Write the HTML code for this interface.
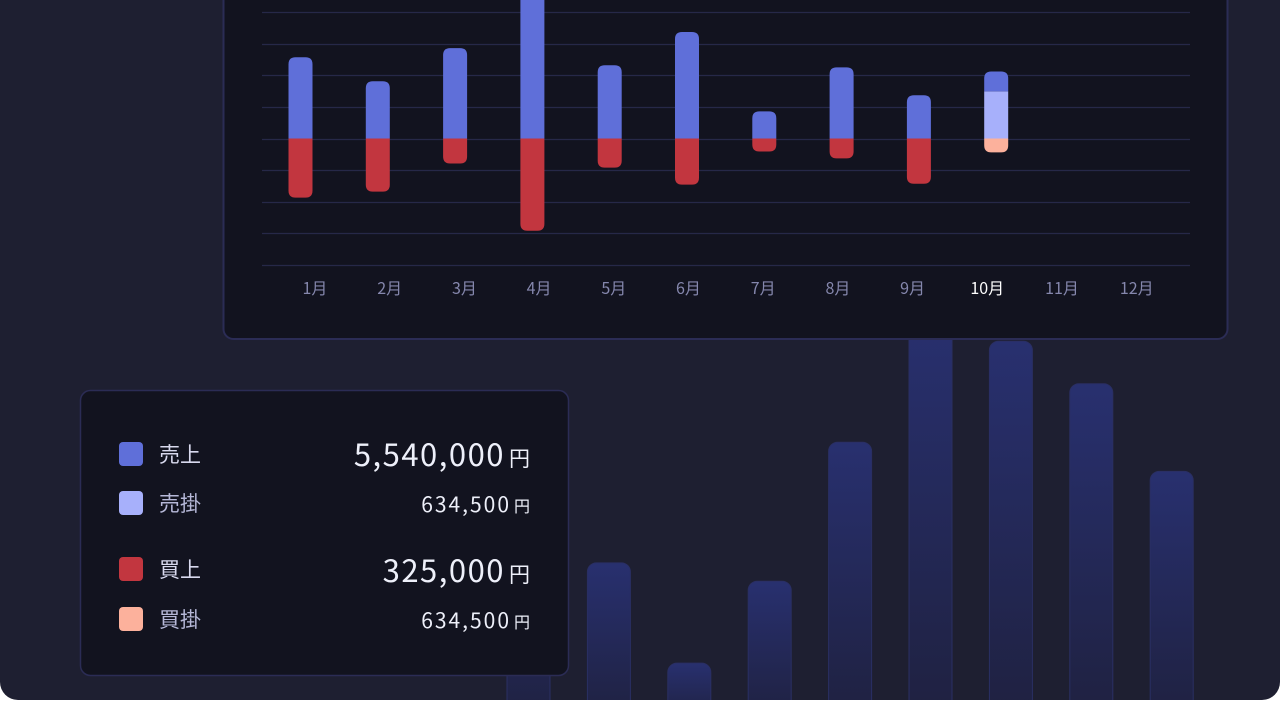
<!DOCTYPE html>
<html lang="ja">
<head>
<meta charset="utf-8">
<style>
  html,body{margin:0;padding:0;background:#ffffff;}
  body{width:1280px;height:700px;overflow:hidden;font-family:"Noto Sans CJK JP","Liberation Sans",sans-serif;}
  svg text{font-family:"Noto Sans CJK JP","Liberation Sans",sans-serif;}
  .big{letter-spacing:1.5px;}
  .small{letter-spacing:2px;}
</style>
</head>
<body>
<svg id="root" width="1280" height="700" viewBox="0 0 1280 700" xmlns="http://www.w3.org/2000/svg">
  <defs>
    <linearGradient id="bgBar" x1="0" y1="0" x2="0" y2="1">
      <stop offset="0" stop-color="#28306f"/>
      <stop offset="1" stop-color="#1f2140"/>
    </linearGradient>
    <clipPath id="plotClip"><rect x="224" y="0" width="1003" height="338"/></clipPath>
  </defs>
  <rect x="0" y="-20" width="1280" height="720" rx="18" fill="#1e1f31"/>
  <g id="bgBars"></g>

  <rect x="223.5" y="-20" width="1004" height="359" rx="10" fill="#12131f" stroke="#2b2c55" stroke-width="2"/>
  <g id="grid"></g>
  <g id="bars" clip-path="url(#plotClip)"></g>
  <g id="xlabels"></g>

  <rect x="80.5" y="390.5" width="488" height="285" rx="10" fill="#12131f" stroke="#2b2c55" stroke-width="1.5"/>
  <g>
    <rect x="119" y="442" width="24" height="24" rx="4" fill="#5f6fd9"/>
    <text x="159" y="462" font-size="21" fill="#d8d9ee">売上</text>
    <text x="530" y="466" text-anchor="end" fill="#eef0fa"><tspan class="big" font-size="31">5,540,000</tspan><tspan font-size="21" dx="4">円</tspan></text>
  </g>
  <g>
    <rect x="119" y="491" width="24" height="24" rx="4" fill="#a7b0fb"/>
    <text x="159" y="511" font-size="21" fill="#b6b8d8">売掛</text>
    <text x="530" y="512" text-anchor="end" fill="#eef0fa"><tspan class="small" font-size="21">634,500</tspan><tspan font-size="16" dx="3">円</tspan></text>
  </g>
  <g>
    <rect x="119" y="557" width="24" height="24" rx="4" fill="#c2363f"/>
    <text x="159" y="577" font-size="21" fill="#d8d9ee">買上</text>
    <text x="530" y="582" text-anchor="end" fill="#eef0fa"><tspan class="big" font-size="31">325,000</tspan><tspan font-size="21" dx="4">円</tspan></text>
  </g>
  <g>
    <rect x="119" y="607" width="24" height="24" rx="4" fill="#fcb19c"/>
    <text x="159" y="627" font-size="21" fill="#b6b8d8">買掛</text>
    <text x="530" y="628" text-anchor="end" fill="#eef0fa"><tspan class="small" font-size="21">634,500</tspan><tspan font-size="16" dx="3">円</tspan></text>
  </g>
</svg>
<script>
const months = ["1月","2月","3月","4月","5月","6月","7月","8月","9月","10月","11月","12月"];
const sales = [2.57,1.81,2.86,4.6,2.32,3.37,0.86,2.25,1.37,0.63,0,0];
const receivable = [0,0,0,0,0,0,0,0,0,1.49,0,0];
const purchase = [1.87,1.68,0.79,2.92,0.92,1.46,0.41,0.63,1.43,0,0,0];
const payable = [0,0,0,0,0,0,0,0,0,0.44,0,0];
const gridLevels = [4,3,2,1,0,-1,-2,-3,-4];
const bgValues = [2.6,2.16,0.58,1.87,4.06,6.0,5.65,4.98,3.6];

const NS = "http://www.w3.org/2000/svg";
const zeroY = 138.5, unit = 31.6;
function yScale(v){ return zeroY - v*unit; }
function xScale(i){ return 300.5 + i*77.3; }
function labelX(i){ return 315 + i*74.7; }
const bgBase = 700, bgUnit = 63.5;
function bgY(v){ return bgBase - v*bgUnit; }
function bgX(i){ return 507 + i*80.4; }

function mk(tag, attrs, parent){
  const el = document.createElementNS(NS, tag);
  for (const k in attrs) el.setAttribute(k, attrs[k]);
  parent.appendChild(el);
  return el;
}

const bgG = document.getElementById('bgBars');
bgValues.forEach((v,i)=>{
  const y = bgY(v);
  const r = mk('rect',{x:bgX(i), y:y, width:43, height:bgBase - y + 20, rx:9, fill:'url(#bgBar)', stroke:'#2a2f63', 'stroke-width':1}, bgG);
  
  
});

const gridG = document.getElementById('grid');
gridLevels.forEach(v=>{
  const y = Math.round(yScale(v)) + 0.5;
  const l = mk('line',{x1:262, x2:1190, y1:y, y2:y, stroke:'#262848', 'stroke-width':1.2}, gridG);
  
  
});

const barsG = document.getElementById('bars');
const W = 24, R = 7;
function seg(x, y1, y2, color, roundTop, roundBottom, name){
  const h = y2 - y1;
  if (h <= 0) return;
  const rt = roundTop ? Math.min(R, h) : 0, rb = roundBottom ? Math.min(R, h) : 0;
  const x0 = x - W/2, x1 = x + W/2;
  const d = `M${x0},${y1+rt} Q${x0},${y1} ${x0+rt},${y1} L${x1-rt},${y1} Q${x1},${y1} ${x1},${y1+rt} L${x1},${y2-rb} Q${x1},${y2} ${x1-rb},${y2} L${x0+rb},${y2} Q${x0},${y2} ${x0},${y2-rb} Z`;
  const p = mk('path',{d:d, fill:color}, barsG);
  
  
}
months.forEach((m,i)=>{
  const x = xScale(i);
  const rec = receivable[i], s = sales[i];
  if (rec > 0) seg(x, yScale(rec), zeroY, '#a7b0fb', s <= 0, false, 'receivable-bar');
  if (s > 0) seg(x, yScale(rec + s), yScale(rec), '#5f6fd9', true, false, 'sales-bar');
  const pu = purchase[i], pa = payable[i];
  if (pu > 0) seg(x, zeroY, yScale(-pu), '#c2363f', false, pa <= 0, 'purchase-bar');
  if (pa > 0) seg(x, yScale(-pu), yScale(-pu - pa), '#fcb19c', false, true, 'payable-bar');
});

const lblG = document.getElementById('xlabels');
months.forEach((m,i)=>{
  const t = mk('text',{x:labelX(i), y:294, 'text-anchor':'middle', 'font-size':16, fill: i===9 ? '#ffffff' : '#8587ad'}, lblG);
  t.textContent = m;
  
  
});
</script>
</body>
</html>
